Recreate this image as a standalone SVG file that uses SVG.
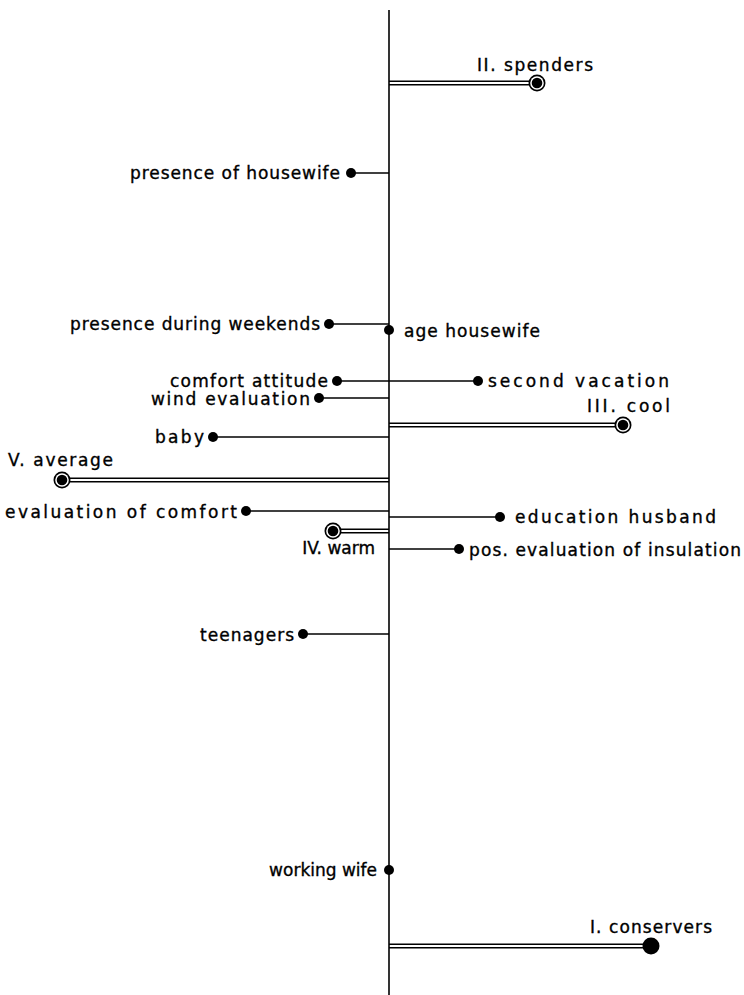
<svg xmlns="http://www.w3.org/2000/svg" width="744" height="995" viewBox="0 0 744 995">
<style>
text{font-family:"DejaVu Sans","Liberation Sans",sans-serif;font-size:17px;fill:#000;stroke:#000;stroke-width:0.35}
.ax{stroke:#000;stroke-width:1.6;fill:none}
.ln{stroke:#000;stroke-width:1.4;fill:none}
.dl{stroke:#000;stroke-width:1.4;fill:none}
.dot{fill:#000}
</style>
<defs>
<g id="ring"><circle r="8.5" fill="#000"/><circle r="6.8" fill="#fff"/><circle r="5.3" fill="#000"/></g>
</defs>
<rect width="744" height="995" fill="#fff"/>
<g id="connectors">
<line class="ax" x1="389" y1="10" x2="389" y2="995"/>
<path class="dl" d="M389 81.3H531M389 84.7H531"/>
<line class="ln" x1="351" y1="173" x2="389" y2="173"/>
<line class="ln" x1="329" y1="324" x2="389" y2="324"/>
<line class="ln" x1="337" y1="381" x2="478" y2="381"/>
<line class="ln" x1="319" y1="398" x2="389" y2="398"/>
<path class="dl" d="M389 423.3H617M389 426.7H617"/>
<line class="ln" x1="213" y1="437" x2="389" y2="437"/>
<path class="dl" d="M68 478.3H389M68 481.7H389"/>
<line class="ln" x1="246" y1="511" x2="389" y2="511"/>
<line class="ln" x1="389" y1="517" x2="500" y2="517"/>
<path class="dl" d="M339 529.3H389M339 532.7H389"/>
<line class="ln" x1="389" y1="549" x2="459" y2="549"/>
<line class="ln" x1="303" y1="634" x2="389" y2="634"/>
<path class="dl" d="M389 944.3H645M389 947.7H645"/>
</g>
<g id="n-spenders"><use href="#ring" x="537" y="83"/><text x="593" y="71" text-anchor="end" textLength="116">II. spenders</text></g>
<g id="n-presence-housewife"><circle class="dot" cx="351" cy="173" r="5"/><text x="340" y="179" text-anchor="end" textLength="210">presence of housewife</text></g>
<g id="n-weekends"><circle class="dot" cx="329" cy="324" r="5"/><text x="320" y="330" text-anchor="end" textLength="250">presence during weekends</text></g>
<g id="n-age"><circle class="dot" cx="389" cy="330" r="5"/><text x="404" y="337" textLength="136">age housewife</text></g>
<g id="n-comfort-attitude"><circle class="dot" cx="337" cy="381" r="5"/><text x="328" y="387" text-anchor="end" textLength="158">comfort attitude</text></g>
<g id="n-second-vacation"><circle class="dot" cx="478" cy="381" r="5"/><text x="488" y="387" textLength="181">second vacation</text></g>
<g id="n-wind"><circle class="dot" cx="319" cy="398" r="5"/><text x="310" y="405" text-anchor="end" textLength="159">wind evaluation</text></g>
<g id="n-cool"><use href="#ring" x="623" y="425"/><text x="670" y="412" text-anchor="end" textLength="83">III. cool</text></g>
<g id="n-baby"><circle class="dot" cx="213" cy="437" r="5"/><text x="204" y="443" text-anchor="end" textLength="49">baby</text></g>
<g id="n-average"><use href="#ring" x="62" y="480"/><text x="8" y="466" textLength="105">V. average</text></g>
<g id="n-eval-comfort"><circle class="dot" cx="246" cy="511" r="5"/><text x="237" y="518" text-anchor="end" textLength="232">evaluation of comfort</text></g>
<g id="n-education"><circle class="dot" cx="500" cy="517" r="5"/><text x="515" y="523" textLength="201">education husband</text></g>
<g id="n-warm"><use href="#ring" x="333" y="531"/><text x="375" y="554" text-anchor="end">IV. warm</text></g>
<g id="n-insulation"><circle class="dot" cx="459" cy="549" r="5"/><text x="469" y="556" textLength="272">pos. evaluation of insulation</text></g>
<g id="n-teenagers"><circle class="dot" cx="303" cy="634" r="5"/><text x="294" y="641" text-anchor="end" textLength="94">teenagers</text></g>
<g id="n-working-wife"><circle class="dot" cx="389" cy="870" r="5"/><text x="377" y="876" text-anchor="end">working wife</text></g>
<g id="n-conservers"><circle class="dot" cx="651" cy="946" r="8.5"/><text x="590" y="933" textLength="122">I. conservers</text></g>
</svg>
